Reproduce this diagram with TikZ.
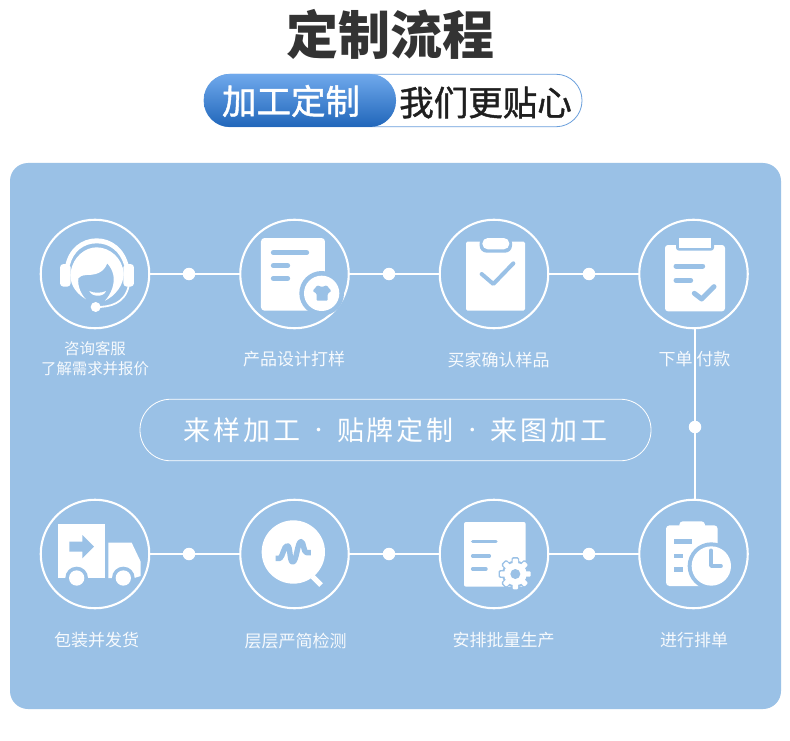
\documentclass[tikz,border=0pt]{standalone}
\usepackage{fontspec}
\setmainfont{Noto Sans CJK SC}
\usetikzlibrary{calc}
\definecolor{panelblue}{HTML}{9AC1E6}
\definecolor{titlegrey}{HTML}{333333}
\definecolor{pillline}{HTML}{6A9FDC}
\definecolor{pilltop}{HTML}{70A9EC}
\definecolor{pillbot}{HTML}{2066BA}
\newcommand\banddot{\sbox0{·}\makebox[\wd0][c]{\raisebox{3.8pt}{\fontsize{17}{17}\selectfont ·}}}
\tikzset{
  stepring/.style={circle,draw=white,line width=2.1pt,minimum size=108.5pt,inner sep=0pt},
  linkdot/.style={circle,fill=white,minimum size=12.5pt,inner sep=0pt},
  link/.style={draw=white,line width=2pt},
  steptext/.style={text=white,font=\fontsize{17}{20}\selectfont,inner sep=0pt,opacity=.92},
  smalltext/.style={text=white,font=\fontsize{15.4}{20}\selectfont,inner sep=0pt,opacity=.92},
  iconfill/.style={fill=white},
  iconcut/.style={fill=panelblue},
  iconline/.style={draw=panelblue,line cap=round,line join=round},
  zA/.style={shift={(30,210)},x=0.33333pt,y=-0.33333pt},
  zB/.style={shift={(430,210)},x=0.33333pt,y=-0.33333pt},
  zC/.style={shift={(30,490)},x=0.33333pt,y=-0.33333pt},
  zD/.style={shift={(430,490)},x=0.33333pt,y=-0.33333pt},
}
\begin{document}
\begin{tikzpicture}[x=1pt,y=-1pt]
\useasboundingbox (0,0) rectangle (790,741);
\fill[white] (0,0) rectangle (790,741);
% heading
\node[text=titlegrey,inner sep=0pt,font=\fontsize{52}{56}\bfseries\selectfont] (title) at (390.5,34) {定制流程};
\node[draw=pillline,line width=.8pt,rounded corners=26pt,minimum width=378pt,minimum height=52.5pt,inner sep=0pt] (outerpill) at (393,100.5) {};
\node[top color=pilltop,bottom color=pillbot,rounded corners=26pt,minimum width=192pt,minimum height=53pt,inner sep=0pt] (innerpill) at (300,100.5) {};
\node[text=white,inner sep=0pt,font=\fontsize{34.5}{40}\selectfont] (pilla) at (291,101) {\addfontfeature{FakeBold=1.2}加工定制};
\node[text=black!88,inner sep=0pt,font=\fontsize{34.5}{40}\selectfont] (pillb) at (485.5,102.5) {\addfontfeature{FakeBold=1.2}我们更贴心};
% panel
\fill[panelblue,rounded corners=18pt] (10,163) rectangle (781,709);
% rings and dots
\foreach \n/\x/\y in {c1/95/274,c2/294.5/274,c3/494/274,c4/693.5/274,c5/95/554,c6/294.5/554,c7/494/554,c8/693.5/554}
  \node[stepring] (\n) at (\x,\y) {};
\foreach \n/\x/\y in {d1/189/274,d2/389/274,d3/589/274,d4/695/427,d5/189/554,d6/389/554,d7/589/554}
  \node[linkdot] (\n) at (\x,\y) {};
\draw[link] (c1)--(d1)--(c2);
\draw[link] (c2)--(d2)--(c3);
\draw[link] (c3)--(d3)--(c4);
\draw[link] (d4|-c4.south)--(d4)--(d4|-c8.north);
\draw[link] (c5)--(d5)--(c6);
\draw[link] (c6)--(d6)--(c7);
\draw[link] (c7)--(d7)--(c8);
% centre pill
\node[draw=white,line width=.8pt,rounded corners=30.5pt,minimum width=511pt,minimum height=61.5pt,inner sep=0pt,
  text=white,font=\fontsize{27}{32}\selectfont] (band) at (395.5,430) {\addfontfeature{LetterSpace=11}来样加工\hspace{5pt}\banddot\hspace{5pt}贴牌定制\hspace{5pt}\banddot\hspace{5pt}来图加工};
% icon 1
\begin{scope}[zA]
 \fill[iconfill] (105,170) .. controls (115,115) and (155,85) .. (200,85) .. controls (245,85) and (285,115) .. (297,170) -- (282,165) .. controls (270,125) and (240,100) .. (200,100) .. controls (160,100) and (130,125) .. (120,165) -- cycle;
 \fill[iconfill,rounded corners=3.5pt] (90,162) rectangle (122,230);
 \fill[iconfill,rounded corners=3.5pt] (280,162) rectangle (312,230);
 \fill[iconfill] (168,268) .. controls (130,245) and (118,215) .. (122,185) .. controls (130,140) and (165,112) .. (200,112) .. controls (240,112) and (278,145) .. (281,190) .. controls (282,225) and (255,258) .. (225,272) .. controls (245,250) and (255,220) .. (250,195) .. controls (247,180) and (240,170) .. (232,160) .. controls (220,190) and (195,195) .. (170,195) .. controls (155,196) and (148,200) .. (145,205) .. controls (142,230) and (155,255) .. (168,268) -- cycle;
 \fill[iconfill] (178,243) .. controls (190,250) and (215,250) .. (228,243) .. controls (222,262) and (185,262) .. (178,243) -- cycle;
 \fill[iconfill] (197,291) circle[radius=15];
 \draw[white,line width=1.8pt] (197,291) .. controls (240,292) and (285,280) .. (296,228);
\end{scope}
% icon 2
\begin{scope}[zA]
 \fill[iconfill,rounded corners=3.5pt] (693,84) rectangle (885,302);
 \foreach \ya/\xa/\xb in {128/730/830,167/730/773,205/730/773}
  \draw[iconline,line width=5pt] (\xa,\ya)--(\xb,\ya);
 \fill[iconcut] (875,250) circle[radius=67];
 \fill[iconfill] (875,250) circle[radius=53];
 \fill[iconcut,rounded corners=1pt] (862,226) -- (876,231) -- (890,226) -- (904,243) -- (893,251) -- (893,272) -- (860,272) -- (860,251) -- (848,243) -- cycle;
\end{scope}
% icon 3
\begin{scope}[zB]
 \fill[iconfill,rounded corners=1.5pt] (108,95) rectangle (285,302);
 \fill[iconcut,rounded corners=7pt] (149,78) rectangle (246,128);
 \fill[iconfill,rounded corners=5.5pt] (157,84) rectangle (238,118);
 \draw[iconline,line width=4pt] (155,192)--(190,222)--(250,160);
\end{scope}
% icon 4
\begin{scope}[zB]
 \fill[iconfill,rounded corners=3pt] (705,105) rectangle (885,304);
 \fill[iconcut,rounded corners=3pt] (738,78) rectangle (852,122);
 \fill[iconfill] (748,85) rectangle (842,114);
 \draw[iconline,line width=5pt] (738,168)--(818,168);
 \draw[iconline,line width=5pt] (738,211)--(782,211);
 \draw[iconline,line width=5pt] (793,250)--(815,267)--(852,230);
\end{scope}
% icon 5
\begin{scope}[zC]
 \fill[iconfill] (85,102) rectangle (224,264);
 \fill[iconfill] (235,158) -- (305,158) -- (332,215) -- (332,258) -- (313,264) -- (235,264) -- cycle;
 \fill[iconcut] (140,264) circle[radius=34];
 \fill[iconcut] (280,264) circle[radius=34];
 \fill[iconfill] (140,264) circle[radius=23];
 \fill[iconfill] (280,264) circle[radius=23];
 \fill[iconcut] (118,155) -- (157,155) -- (157,135) -- (192,170) -- (157,205) -- (157,185) -- (118,185) -- cycle;
\end{scope}
% icon 6
\begin{scope}[zC]
 \fill[iconfill] (790,186) circle[radius=95];
 \draw[white,line width=5pt] (848,260)--(873,285);
 \draw[draw=panelblue,line width=5.4pt,line join=round] (737,205) -- (750,205) .. controls (758,200) and (762,167) .. (772,167) .. controls (782,167) and (778,216) .. (788,216) .. controls (800,216) and (802,155) .. (813,155) .. controls (822,155) and (820,188) .. (830,188) -- (843,188);
\end{scope}
% icon 7
\begin{scope}[zD]
 \fill[iconfill,rounded corners=2pt] (102,96) rectangle (287,290);
 \foreach \ya/\xb in {155/198,198/178,237/168}
  \draw[iconline,line width=3.4pt] (128,\ya)--(\xb,\ya);
 \foreach \a in {0,45,...,315}
  \draw[panelblue,line width=1.6pt,fill=panelblue,rotate around={\a:(256,252)},rounded corners=1pt] (247,204) rectangle (265,240);
 \fill[panelblue] (256,252) circle[radius=40];
 \foreach \a in {0,45,...,315}
  \fill[white,rotate around={\a:(256,252)},rounded corners=1pt] (248,206) rectangle (264,240);
 \fill[white] (256,252) circle[radius=34];
 \fill[panelblue] (256,252) circle[radius=15];
\end{scope}
% icon 8
\begin{scope}[zD]
 \fill[iconfill,rounded corners=3.5pt] (708,106) rectangle (863,288);
 \fill[iconfill,rounded corners=3.5pt] (748,94) rectangle (825,120);
 \draw[panelblue,line width=4.6pt] (733,155)--(787,155);
 \draw[panelblue,line width=4.6pt] (733,198)--(760,198);
 \draw[panelblue,line width=4.6pt] (733,238)--(760,238);
 \fill[iconcut] (844,228) circle[radius=71];
 \fill[iconfill] (844,228) circle[radius=59];
 \draw[panelblue,line width=3.6pt,line cap=round,line join=round] (843,181)--(843,228)--(873,228);
\end{scope}
% labels
\node[smalltext] (t1a) at (95,349) {咨询客服};
\node[smalltext] (t1b) at (95,369) {了解需求并报价};
\node[steptext] (t2) at (294,359) {产品设计打样};
\node[steptext] (t3) at (498.5,360) {买家确认样品};
\node[steptext] (t4) at (694.5,359) {下单 付款};
\node[steptext] (t5) at (96.5,640) {包装并发货};
\node[steptext] (t6) at (295.5,641) {层层严简检测};
\node[steptext] (t7) at (503.5,640) {安排批量生产};
\node[steptext] (t8) at (694,640) {进行排单};
\end{tikzpicture}
\end{document}
